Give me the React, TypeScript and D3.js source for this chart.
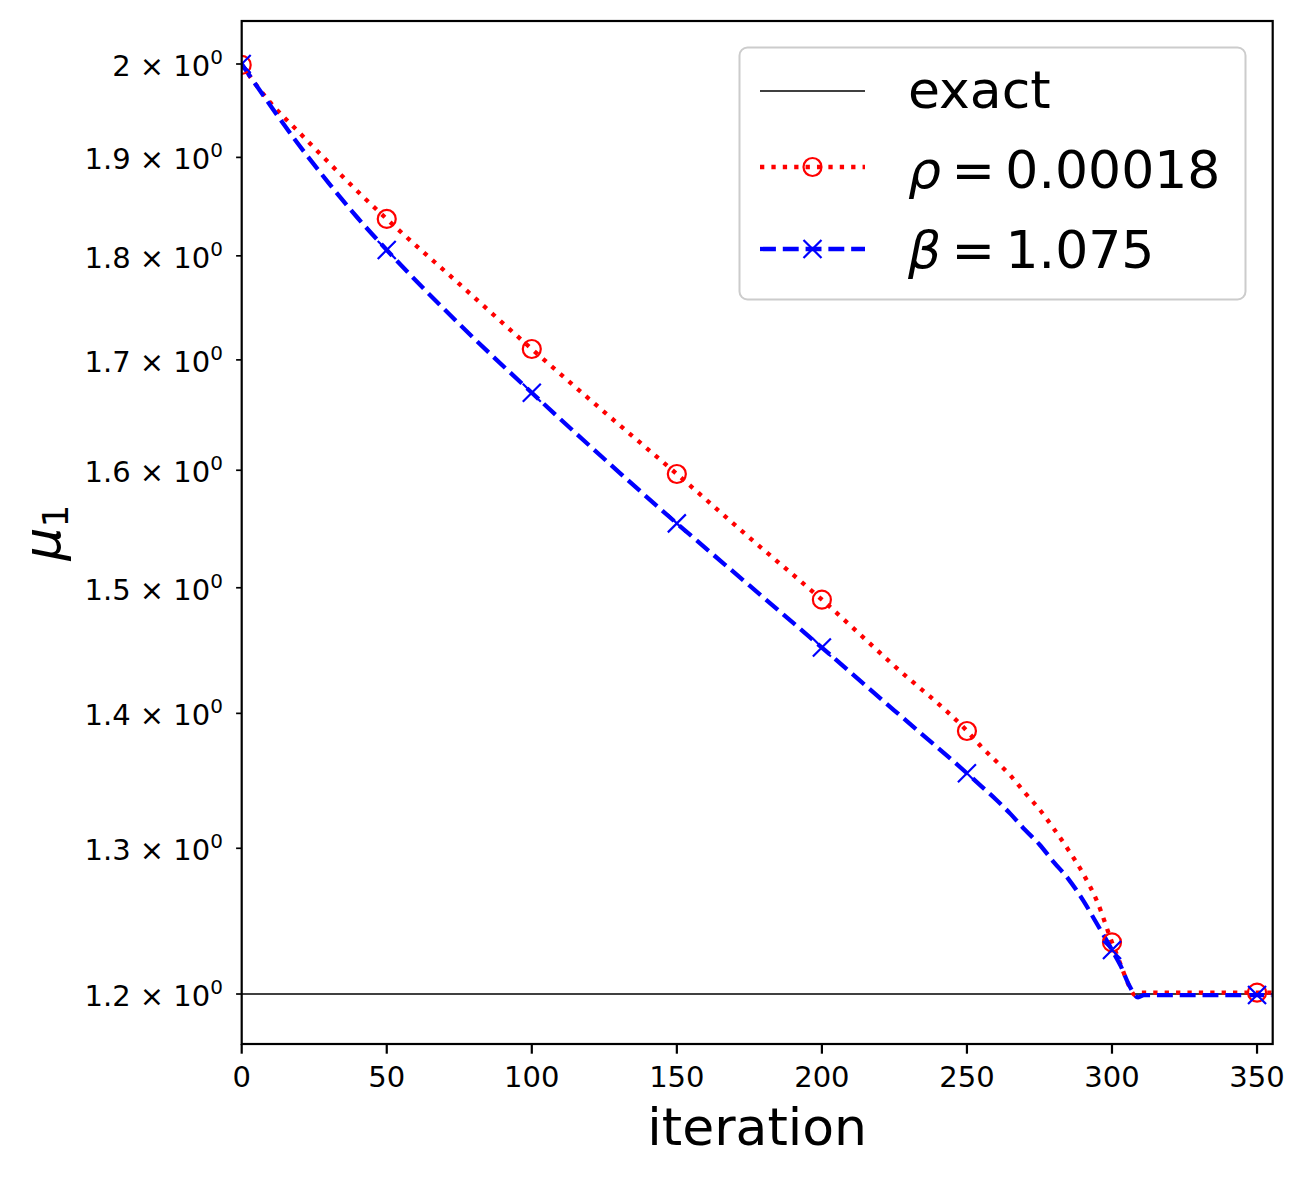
import { useEffect, useRef } from 'react';
import * as d3 from 'd3';

// rho = 0.00018 (red, dotted, circle markers)
const iterRho = [0, 5, 10, 20, 30, 40, 50, 75, 100, 125, 150, 175, 200, 225, 250, 255, 260, 265, 270, 275, 280, 285, 290, 295, 300, 303, 305, 308, 310, 350, 355];
const rhoVals = [1.999, 1.977, 1.9576, 1.9256, 1.8946, 1.8647, 1.8368, 1.7724, 1.7102, 1.652, 1.5967, 1.5419, 1.4902, 1.4369, 1.3865, 1.3745, 1.3638, 1.353, 1.3402, 1.3281, 1.3138, 1.2987, 1.2822, 1.262, 1.2345, 1.2195, 1.2093, 1.1993, 1.2009, 1.2009, 1.2009];

// beta = 1.075 (blue, dashed, x markers)
const iterBeta = [0, 10, 20, 30, 40, 50, 75, 100, 125, 150, 175, 200, 225, 250, 255, 260, 265, 270, 275, 280, 285, 290, 295, 300, 303, 306, 309, 311, 350, 355];
const betaVals = [2.0, 1.9544, 1.9119, 1.8734, 1.8378, 1.8058, 1.7338, 1.6696, 1.6099, 1.554, 1.5019, 1.4515, 1.4022, 1.3547, 1.345, 1.3353, 1.3248, 1.3133, 1.3027, 1.29, 1.2782, 1.2635, 1.2465, 1.2294, 1.2187, 1.2055, 1.1978, 1.1993, 1.1993, 1.1993];

const exactVal = 1.2;
const markEvery = 50;

const xTicks = [0, 50, 100, 150, 200, 250, 300, 350];
const yTicks = [1.2, 1.3, 1.4, 1.5, 1.6, 1.7, 1.8, 1.9, 2.0];
const yTickLabels = ['1.2', '1.3', '1.4', '1.5', '1.6', '1.7', '1.8', '1.9', '2'];

const W = 1309;
const H = 1177;
const FONT = 'DejaVu Sans, sans-serif';

export default function App() {
  const svgRef = useRef<SVGSVGElement>(null);

  useEffect(() => {
    if (!svgRef.current) return;
    const svg = d3.select(svgRef.current);
    svg.selectAll('*').remove();

    const left = 241.7, right = 1272.7, top = 21, bottom = 1044;
    const x = d3.scaleLinear().domain([0, 355.4]).range([left, right]);
    const y = d3.scaleLog().domain([1.1675, 2.0478]).range([bottom, top]);

    svg.append('rect').attr('width', W).attr('height', H).attr('fill', '#fff');

    svg.append('clipPath').attr('id', 'plotclip')
      .append('rect')
      .attr('x', left).attr('y', top)
      .attr('width', right - left).attr('height', bottom - top);

    const plot = svg.append('g').attr('clip-path', 'url(#plotclip)');

    const line = d3.line<[number, number]>()
      .x(d => x(d[0]))
      .y(d => y(d[1]))
      .curve(d3.curveMonotoneX);

    // exact
    plot.append('path')
      .attr('d', d3.line<number>().x(d => x(d)).y(() => y(exactVal))(x.domain()) || '')
      .attr('fill', 'none').attr('stroke', '#000').attr('stroke-width', 1.4);

    const rhoPts: [number, number][] = iterRho.map((it, i) => [it, rhoVals[i]]);
    const betaPts: [number, number][] = iterBeta.map((it, i) => [it, betaVals[i]]);

    const lw = 4.3;
    const dotted = `${lw},${lw * 1.65}`;
    const dashed = `${lw * 3.7},${lw * 1.6}`;

    plot.append('path')
      .attr('d', line(rhoPts) || '')
      .attr('fill', 'none').attr('stroke', '#ff0000').attr('stroke-width', lw)
      .attr('stroke-dasharray', dotted);

    plot.append('path')
      .attr('d', line(betaPts) || '')
      .attr('fill', 'none').attr('stroke', '#0000ff').attr('stroke-width', lw)
      .attr('stroke-dasharray', dashed);

    const ms = 9;
    const drawCircle = (g: any, cx: number, cy: number) =>
      g.append('circle').attr('cx', cx).attr('cy', cy).attr('r', ms)
        .attr('fill', 'none').attr('stroke', '#ff0000').attr('stroke-width', 2.2);
    const drawX = (g: any, cx: number, cy: number) =>
      g.append('path')
        .attr('d', `M${cx - ms},${cy - ms}L${cx + ms},${cy + ms}M${cx - ms},${cy + ms}L${cx + ms},${cy - ms}`)
        .attr('fill', 'none').attr('stroke', '#0000ff').attr('stroke-width', 2.2);

    rhoPts.filter(d => d[0] % markEvery === 0).forEach(d => drawCircle(plot, x(d[0]), y(d[1])));
    betaPts.filter(d => d[0] % markEvery === 0).forEach(d => drawX(plot, x(d[0]), y(d[1])));

    // spines
    svg.append('rect')
      .attr('x', left).attr('y', top)
      .attr('width', right - left).attr('height', bottom - top)
      .attr('fill', 'none').attr('stroke', '#000').attr('stroke-width', 2.2);

    // x ticks
    const xt = svg.append('g');
    xTicks.forEach(t => {
      xt.append('line')
        .attr('x1', x(t)).attr('x2', x(t)).attr('y1', bottom).attr('y2', bottom + 9.7)
        .attr('stroke', '#000').attr('stroke-width', 2.2);
      xt.append('text')
        .attr('x', x(t)).attr('y', bottom + 43)
        .attr('text-anchor', 'middle')
        .attr('font-family', FONT).attr('font-size', 29)
        .text(String(t));
    });

    // y ticks (log minor style)
    const yt = svg.append('g');
    yTicks.forEach((t, i) => {
      yt.append('line')
        .attr('x1', left - 5.6).attr('x2', left).attr('y1', y(t)).attr('y2', y(t))
        .attr('stroke', '#000').attr('stroke-width', 1.7);
      const txt = yt.append('text')
        .attr('x', 223).attr('y', y(t) + 12)
        .attr('text-anchor', 'end')
        .attr('font-family', FONT).attr('font-size', 29);
      txt.append('tspan').text(`${yTickLabels[i]} \u00d7 10`);
      txt.append('tspan').attr('font-size', 20).attr('dy', -12).text('0');
    });

    // axis labels
    svg.append('text')
      .attr('x', (left + right) / 2).attr('y', 1145)
      .attr('text-anchor', 'middle')
      .attr('font-family', FONT).attr('font-size', 52)
      .text('iteration');

    const yl = svg.append('text')
      .attr('transform', `translate(60,${(top + bottom) / 2}) rotate(-90)`)
      .attr('text-anchor', 'middle')
      .attr('font-family', FONT).attr('font-size', 52);
    yl.append('tspan').attr('font-style', 'italic').text('\u03bc');
    yl.append('tspan').attr('font-size', 36).attr('dy', 8).text('1');

    // legend
    const lg = svg.append('g');
    lg.append('rect')
      .attr('x', 739.5).attr('y', 47.5).attr('width', 506).attr('height', 252).attr('rx', 8)
      .attr('fill', '#fff').attr('fill-opacity', 0.8)
      .attr('stroke', '#cccccc').attr('stroke-width', 2);

    const hx0 = 760, hx1 = 865, hxm = (hx0 + hx1) / 2, tx = 908;
    lg.append('line').attr('x1', hx0).attr('x2', hx1).attr('y1', 91).attr('y2', 91)
      .attr('stroke', '#000').attr('stroke-width', 1.4);
    lg.append('text').attr('x', tx).attr('y', 108)
      .attr('font-family', FONT).attr('font-size', 52).text('exact');

    lg.append('line').attr('x1', hx0).attr('x2', hx1).attr('y1', 167).attr('y2', 167)
      .attr('stroke', '#ff0000').attr('stroke-width', lw)
      .attr('stroke-dasharray', dotted);
    drawCircle(lg, hxm, 167);
    const t2 = lg.append('text').attr('x', tx).attr('y', 188)
      .attr('font-family', FONT).attr('font-size', 52);
    t2.append('tspan').attr('font-style', 'italic').text('\u03c1');
    t2.append('tspan').text('\u2009=\u20090.00018');

    lg.append('line').attr('x1', hx0).attr('x2', hx1).attr('y1', 249).attr('y2', 249)
      .attr('stroke', '#0000ff').attr('stroke-width', lw)
      .attr('stroke-dasharray', dashed);
    drawX(lg, hxm, 249);
    const t3 = lg.append('text').attr('x', tx).attr('y', 268)
      .attr('font-family', FONT).attr('font-size', 52);
    t3.append('tspan').attr('font-style', 'italic').text('\u03b2');
    t3.append('tspan').text('\u2009=\u20091.075');
  }, []);

  return (
    <div style={{ position: 'absolute', left: 0, top: 0 }}>
      <svg ref={svgRef} width={W} height={H} style={{ display: 'block' }} />
    </div>
  );
}
